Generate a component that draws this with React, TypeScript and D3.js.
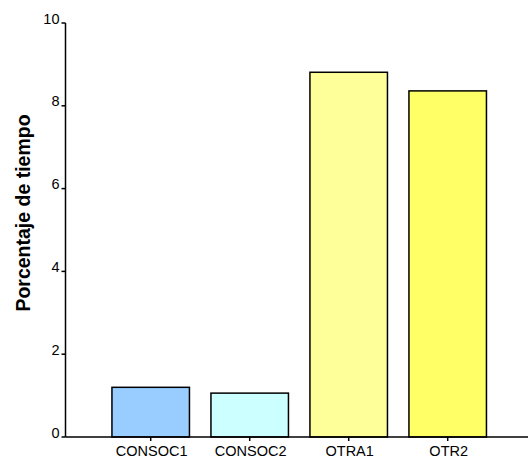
import React from "react";
import * as d3 from "d3";

const categories = ["CONSOC1", "CONSOC2", "OTRA1", "OTR2"];
const values = [1.2, 1.06, 8.81, 8.36];
const colors = ["#99CCFF", "#CCFFFF", "#FFFF99", "#FFFF66"];
const yTicks = [0, 2, 4, 6, 8, 10];

export default function App() {
  const W = 529, H = 458;
  const y = d3.scaleLinear().domain([0, 10]).range([437, 23]);
  const x = d3.scaleBand<string>().domain(categories).range([101.2, 497.2]).paddingInner(0.217).paddingOuter(0.1085);
  const font = "Arial, 'Liberation Sans', sans-serif";
  return (
    <svg width={W} height={H} style={{ position: "absolute", left: 0, top: 0 }}>
      <rect width={W} height={H} fill="#fff" />
      {categories.map((c, i) => (
        <rect key={c} x={x(c)} y={y(values[i])} width={x.bandwidth()} height={y(0) - y(values[i])}
          fill={colors[i]} stroke="#000" strokeWidth={1.5} />
      ))}
      <line x1={65.5} x2={65.5} y1={y(10)} y2={y(0)} stroke="#000" strokeWidth={1.5} />
      <line x1={65.5} x2={528} y1={y(0)} y2={y(0)} stroke="#000" strokeWidth={1.5} />
      {yTicks.map(t => (
        <g key={t}>
          <line x1={61.5} x2={65.5} y1={y(t)} y2={y(t)} stroke="#000" strokeWidth={1.5} />
          <text x={59.5} y={y(t) + 0.5} textAnchor="end" fontFamily={font} fontSize={14.5}>{t}</text>
        </g>
      ))}
      {categories.map(c => (
        <g key={c}>
          <line x1={x(c)! + x.bandwidth() / 2} x2={x(c)! + x.bandwidth() / 2} y1={y(0)} y2={y(0) + 4} stroke="#000" strokeWidth={1.5} />
          <text x={x(c)! + x.bandwidth() / 2 + 1} y={456} textAnchor="middle" fontFamily={font} fontSize={14.5}>{c}</text>
        </g>
      ))}
      <text transform="translate(30,213) rotate(-90)" textAnchor="middle" fontFamily={font} fontSize={19.5} fontWeight="bold">Porcentaje de tiempo</text>
    </svg>
  );
}
